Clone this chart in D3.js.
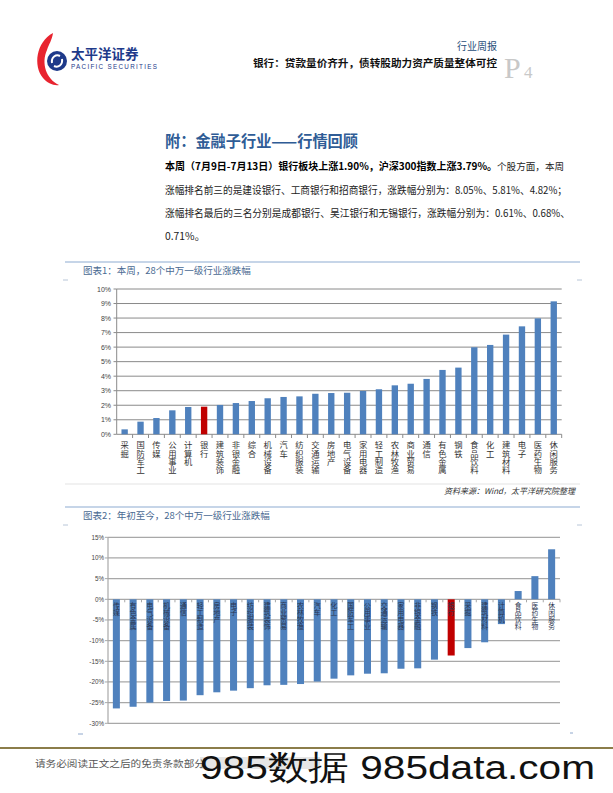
<!DOCTYPE html>
<html><head><meta charset="utf-8">
<script src="https://cdn.jsdelivr.net/npm/d3@7"></script>
<style>
html,body{margin:0;padding:0;background:#fff;}
svg{display:block;font-family:"Noto Sans CJK SC","DejaVu Sans",sans-serif;}
.vt{writing-mode:vertical-rl;text-orientation:upright;}
</style></head>
<body>
<script>
// ---- Data ----
const weekCategories = ["采掘","国防军工","传媒","公用事业","计算机","银行","建筑装饰","非银金融","综合","机械设备","汽车","纺织服装","交通运输","房地产","电气设备","家用电器","轻工制造","农林牧渔","商业贸易","通信","有色金属","钢铁","食品饮料","化工","建筑材料","电子","医药生物","休闲服务"];
const weekValues = [0.34,0.87,1.12,1.65,1.88,1.90,2.02,2.15,2.29,2.48,2.57,2.61,2.79,2.84,2.86,2.98,3.10,3.37,3.48,3.81,4.43,4.59,5.99,6.15,6.86,7.43,7.98,9.15];
const weekTicks = [0,1,2,3,4,5,6,7,8,9,10];

const ytdCategories = ["传媒","有色金属","电气设备","机械设备","通信","轻工制造","房地产","电子","纺织服装","建筑装饰","商业贸易","农林牧渔","汽车","化工","国防军工","公用事业","交通运输","家用电器","非银金融","钢铁","银行","采掘","建筑材料","计算机","食品饮料","医药生物","休闲服务"];
const ytdValues = [-26.4,-26.0,-25.0,-24.6,-24.5,-23.2,-22.5,-22.1,-21.5,-20.8,-20.7,-20.5,-19.9,-19.2,-18.4,-18.0,-17.9,-16.8,-16.7,-14.6,-13.6,-11.8,-10.4,-6.0,2.0,5.6,12.1];
const ytdTicks = [15,10,5,0,-5,-10,-15,-20,-25,-30];
const highlight = "银行";

const paragraphBold = "本周（7月9日-7月13日）银行板块上涨1.90%，沪深300指数上涨3.79%。";
const paragraphLines = [
  "个股方面，本周",
  "涨幅排名前三的是建设银行、工商银行和招商银行，涨跌幅分别为：8.05%、5.81%、4.82%；",
  "涨幅排名最后的三名分别是成都银行、吴江银行和无锡银行，涨跌幅分别为：0.61%、0.68%、",
  "0.71%。"
];

const W = 613, H = 793;
const BLUE = "#4F81BD", RED = "#C00000";
const svg = d3.select("body").append("svg").attr("width", W).attr("height", H);

// ---- Header / logo ----
const logo = svg.append("g");
logo.append("path").attr("d","M53,33 C36,42 33,66 43,78 C47,83 54,86 59,85 C46,79 41,63 47,50 C49,44 52,40 53,33 Z").attr("fill","#E8242F");
logo.append("circle").attr("cx",57).attr("cy",61).attr("r",10).attr("fill","#1E3A8A");
logo.append("path").attr("d","M52,63 C51,57 56,54 60,56 M62,59 C63,65 58,68 54,66").attr("stroke","#fff").attr("stroke-width",2).attr("fill","none");
svg.append("text").attr("x",71).attr("y",59).attr("font-size",13.5).attr("font-weight","bold").attr("fill","#1E3A8A").text("太平洋证券");
svg.append("text").attr("x",71).attr("y",69).attr("font-size",6.3).attr("fill","#1E3A8A").attr("font-family","Liberation Sans, Arial").attr("textLength",86).text("PACIFIC SECURITIES");

svg.append("text").attr("x",497).attr("y",50).attr("text-anchor","end").attr("font-size",10).attr("fill","#1F4E79").text("行业周报");
svg.append("text").attr("x",497).attr("y",67).attr("text-anchor","end").attr("font-size",10).attr("font-weight","bold").attr("fill","#111").attr("textLength",244).attr("lengthAdjust","spacingAndGlyphs").text("银行：贷款量价齐升，债转股助力资产质量整体可控");
svg.append("text").attr("x",504).attr("y",78).attr("font-size",30).attr("font-family","Liberation Serif, serif").attr("fill","#c8c8c8").text("P");
svg.append("text").attr("x",524).attr("y",78).attr("font-size",17).attr("font-family","Liberation Serif, serif").attr("fill","#c8c8c8").text("4");

// ---- Section heading ----
svg.append("text").attr("x",165).attr("y",147).attr("font-size",15.5).attr("font-weight","bold").attr("fill","#2F5C96").attr("textLength",193).attr("lengthAdjust","spacingAndGlyphs").text("附：金融子行业——行情回顾");

svg.append("text").attr("x",165).attr("y",170).attr("font-size",10).attr("font-weight","bold").attr("fill","#000").text(paragraphBold);
const lineX = [497, 165, 165, 165];
const lineY = [170, 194, 217, 240];
const lineW = [0, 402, 405, 40];
paragraphLines.forEach((ln, i) => {
  const t = svg.append("text").attr("x",lineX[i]).attr("y",lineY[i]).attr("font-size",i === 0 ? 9.6 : 10.5).attr("fill","#222").text(ln);
  if (lineW[i]) t.attr("textLength",lineW[i]).attr("lengthAdjust","spacingAndGlyphs");
});

// ---- Chart frames ----
function frame(y, title) {
  svg.append("line").attr("x1",65).attr("x2",580).attr("y1",y).attr("y2",y).attr("stroke","#C6D5E8").attr("stroke-width",2);
  svg.append("text").attr("x",83).attr("y",y+12).attr("font-size",9.5).attr("fill","#4A6A92").text(title);
  [[63,68],[577,582]].forEach(([a,b]) => svg.append("line").attr("x1",a).attr("x2",b).attr("y1",y+18).attr("y2",y+18).attr("stroke","#B8C6D8"));
}
frame(262, "图表1：本周，28个中万一级行业涨跌幅");
svg.append("line").attr("x1",65).attr("x2",580).attr("y1",484).attr("y2",484).attr("stroke","#e3e3e3");
svg.append("text").attr("x",575).attr("y",494).attr("text-anchor","end").attr("font-size",8).attr("font-style","italic").attr("fill","#333").text("资料来源：Wind，太平洋研究院整理");
frame(507, "图表2：年初至今，28个中万一级行业涨跌幅");

function vtext(g, x, y, str, size, color) {
  g.append("text").attr("class","vt").attr("x",x).attr("y",y).attr("font-size",size).attr("fill",color).text(str);
}

// ---- Chart 1 ----
{
  const x = d3.scaleBand().domain(weekCategories).range([116.7, 561.7]).paddingInner(0.6).paddingOuter(0.3);
  const y = d3.scaleLinear().domain([0, 10]).range([434.3, 289]);
  const g = svg.append("g");
  weekTicks.forEach(t => {
    g.append("line").attr("x1",116.7).attr("x2",561.7).attr("y1",y(t)).attr("y2",y(t)).attr("stroke","#8a8a8a").attr("stroke-width",1);
    g.append("line").attr("x1",113.5).attr("x2",116.7).attr("y1",y(t)).attr("y2",y(t)).attr("stroke","#8a8a8a");
    g.append("text").attr("x",111).attr("y",y(t)+2.5).attr("text-anchor","end").attr("font-size",7).attr("fill","#444").attr("font-family","Liberation Sans, Arial").text(t + "%");
  });
  g.append("line").attr("x1",116.7).attr("x2",116.7).attr("y1",289).attr("y2",434.3).attr("stroke","#8a8a8a");
  weekCategories.forEach((c, i) => {
    const bx = 116.7 + (i + 1) * (445 / 28);
    g.append("line").attr("x1",bx).attr("x2",bx).attr("y1",434.3).attr("y2",438).attr("stroke","#8a8a8a");
  });
  g.selectAll("rect.b1").data(weekValues).join("rect")
    .attr("x",(d,i) => x(weekCategories[i])).attr("width",x.bandwidth())
    .attr("y",d => y(d)).attr("height",d => y(0) - y(d))
    .attr("fill",(d,i) => weekCategories[i] === highlight ? RED : BLUE);
  weekCategories.forEach(c => vtext(g, x(c) + x.bandwidth()/2, 441, c, 8.3, "#333"));
}

// ---- Chart 2 ----
{
  const x = d3.scaleBand().domain(ytdCategories).range([108, 560]).paddingInner(0.58).paddingOuter(0.29);
  const y = d3.scaleLinear().domain([-30, 15]).range([723.3, 537.3]);
  const g = svg.append("g");
  ytdTicks.forEach(t => {
    g.append("line").attr("x1",108).attr("x2",560).attr("y1",y(t)).attr("y2",y(t)).attr("stroke","#a8a8a8").attr("stroke-width",1.2);
    g.append("line").attr("x1",105).attr("x2",108).attr("y1",y(t)).attr("y2",y(t)).attr("stroke","#a8a8a8");
    g.append("text").attr("x",104).attr("y",y(t)+2.3).attr("text-anchor","end").attr("font-size",6.3).attr("fill","#444").attr("font-family","Liberation Sans, Arial").text(t + "%");
  });
  g.append("line").attr("x1",108).attr("x2",108).attr("y1",537.3).attr("y2",723.3).attr("stroke","#a8a8a8").attr("stroke-width",1.2);
  ytdCategories.forEach((c, i) => {
    const bx = 108 + (i + 1) * (452 / 27);
    g.append("line").attr("x1",bx).attr("x2",bx).attr("y1",y(0)).attr("y2",y(0)+3).attr("stroke","#a8a8a8");
  });
  g.selectAll("rect.b2").data(ytdValues).join("rect")
    .attr("x",(d,i) => x(ytdCategories[i])).attr("width",x.bandwidth())
    .attr("y",d => y(Math.max(0,d))).attr("height",d => Math.abs(y(0) - y(d)))
    .attr("fill",(d,i) => ytdCategories[i] === highlight ? RED : BLUE);
  ytdCategories.forEach(c => vtext(g, x(c) + x.bandwidth()/2, y(0) + 3, c, 6.8, "#2a3550"));
  svg.append("line").attr("x1",78).attr("x2",83).attr("y1",734).attr("y2",734).attr("stroke","#8fa8cc");
  svg.append("line").attr("x1",570).attr("x2",573).attr("y1",733).attr("y2",733).attr("stroke","#8fa8cc");
}

// ---- Footer ----
svg.append("line").attr("x1",0).attr("x2",613).attr("y1",748).attr("y2",748).attr("stroke","#8B7D4A").attr("stroke-width",2);
svg.append("rect").attr("x",200).attr("y",757).attr("width",120).attr("height",12).attr("fill","#e6e6e6");
svg.append("text").attr("x",35).attr("y",767).attr("font-size",9).attr("fill","#555").attr("textLength",170).attr("lengthAdjust","spacingAndGlyphs").text("请务必阅读正文之后的免责条款部分");
svg.append("text").attr("x",200).attr("y",779).attr("font-size",34).attr("fill","#111").attr("font-family","Liberation Sans, Arial, sans-serif").attr("textLength",395).attr("lengthAdjust","spacingAndGlyphs").text("985数据 985data.com");
</script>
</body></html>
